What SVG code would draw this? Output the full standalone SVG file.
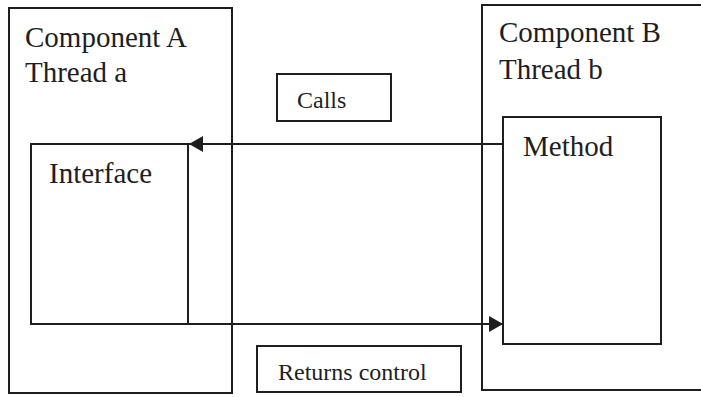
<svg xmlns="http://www.w3.org/2000/svg" width="701" height="397" viewBox="0 0 701 397">
  <style>
    .box { fill: none; stroke: #1e1e1e; stroke-width: 2; }
    .wire { fill: none; stroke: #1e1e1e; stroke-width: 2; }
  </style>
  <defs>
    <marker id="head" viewBox="0 0 14 16" refX="14" refY="8" markerWidth="14" markerHeight="16" markerUnits="userSpaceOnUse" orient="auto">
      <path d="M0,0 L14,8 L0,16 Z" fill="#1e1e1e"/>
    </marker>
  </defs>
  <rect width="701" height="397" fill="#ffffff"/>

  <g id="component-a">
    <rect class="box" x="9" y="8" width="223" height="385"/>
    <text x="25" y="47" font-family="'Liberation Serif', 'DejaVu Serif', serif" font-size="29" fill="#1e1e1e">Component A</text>
    <text x="25" y="82" font-family="'Liberation Serif', 'DejaVu Serif', serif" font-size="29" fill="#1e1e1e">Thread a</text>
  </g>

  <g id="interface">
    <rect class="box" x="31" y="144" width="157" height="180"/>
    <text x="49" y="183" font-family="'Liberation Serif', 'DejaVu Serif', serif" font-size="29" fill="#1e1e1e">Interface</text>
  </g>

  <g id="component-b">
    <rect class="box" x="482" y="5" width="230" height="385"/>
    <text x="499" y="42" font-family="'Liberation Serif', 'DejaVu Serif', serif" font-size="29" fill="#1e1e1e">Component B</text>
    <text x="499" y="79" font-family="'Liberation Serif', 'DejaVu Serif', serif" font-size="29" fill="#1e1e1e">Thread b</text>
  </g>

  <g id="method">
    <rect class="box" x="503" y="117" width="158" height="227"/>
    <text x="523" y="156" font-family="'Liberation Serif', 'DejaVu Serif', serif" font-size="29" fill="#1e1e1e">Method</text>
  </g>

  <g id="calls-label">
    <rect class="box" x="277" y="74" width="114" height="47"/>
    <text x="297" y="108" font-family="'Liberation Serif', 'DejaVu Serif', serif" font-size="24" fill="#1e1e1e">Calls</text>
  </g>

  <g id="returns-label">
    <rect class="box" x="257" y="346" width="204" height="46"/>
    <text x="278" y="380" font-family="'Liberation Serif', 'DejaVu Serif', serif" font-size="24" fill="#1e1e1e">Returns control</text>
  </g>

  <g id="connectors">
    <line class="wire" x1="503" y1="144" x2="189" y2="144" marker-end="url(#head)"/>
    <line class="wire" x1="188" y1="324" x2="503" y2="324" marker-end="url(#head)"/>
  </g>
</svg>
